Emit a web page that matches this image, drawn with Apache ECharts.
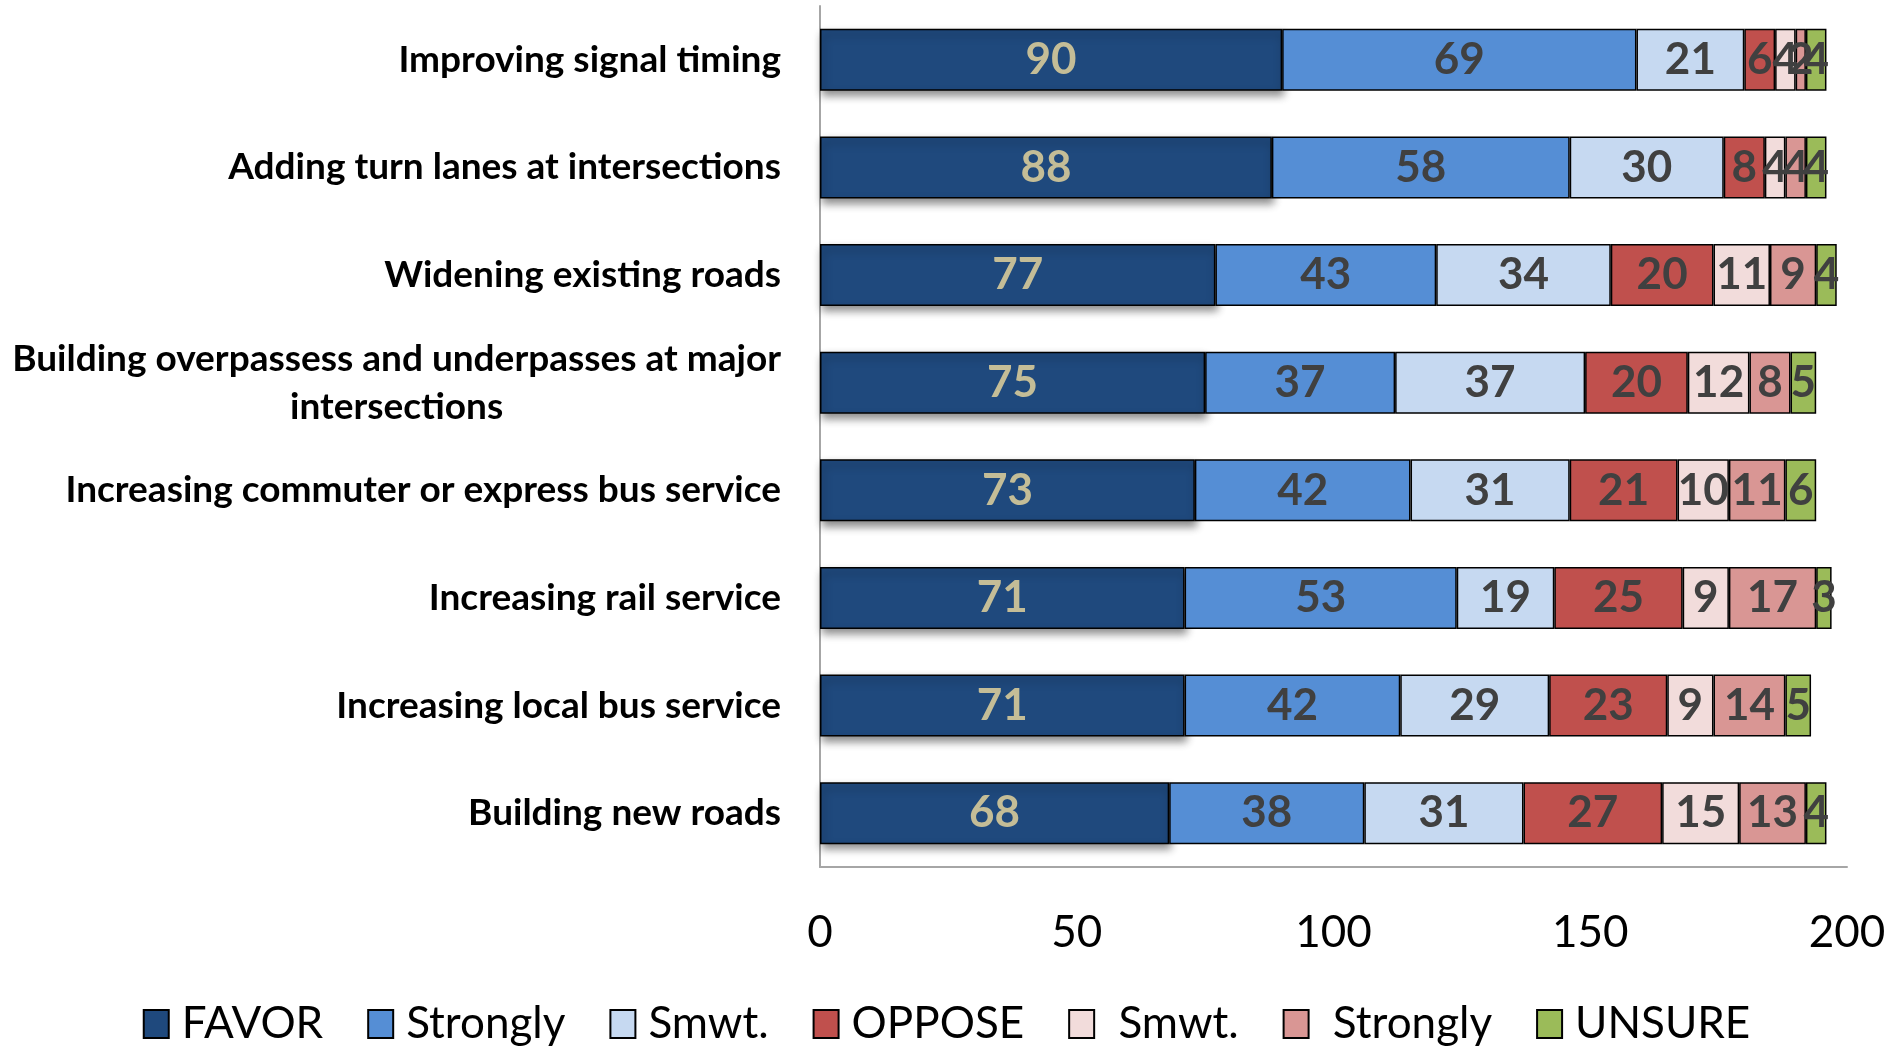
<!DOCTYPE html>
<html>
<head>
<meta charset="utf-8">
<script src="https://cdn.jsdelivr.net/npm/echarts@6/dist/echarts.min.js"></script>
<style>
  html, body { margin: 0; padding: 0; background: #fff; }
  #chart { width: 1893px; height: 1052px; }
</style>
</head>
<body>
<div id="chart"></div>
<script>
var categories = [
    'Improving signal timing',
    'Adding turn lanes at intersections',
    'Widening existing roads',
    'Building overpassess and underpasses at major\nintersections',
    'Increasing commuter or express bus service',
    'Increasing rail service',
    'Increasing local bus service',
    'Building new roads'
];
var favor = [90, 88, 77, 75, 73, 71, 71, 68];
var favorStrongly = [69, 58, 43, 37, 42, 53, 42, 38];
var favorSmwt = [21, 30, 34, 37, 31, 19, 29, 31];
var oppose = [6, 8, 20, 20, 21, 25, 23, 27];
var opposeSmwt = [4, 4, 11, 12, 10, 9, 9, 15];
var opposeStrongly = [2, 4, 9, 8, 11, 17, 14, 13];
var unsure = [4, 4, 4, 5, 6, 3, 5, 4];
var xTicks = [0, 50, 100, 150, 200];

var FONT = 'Lato, "Noto Sans", sans-serif';

function makeSeries(name, data, color, labelColor, extra) {
    var s = {
        name: name,
        type: 'bar',
        stack: 'total',
        barWidth: 62,
        data: data,
        itemStyle: {
            color: color,
            borderColor: '#000',
            borderWidth: 1.5
        },
        label: {
            show: true,
            position: 'inside',
            color: labelColor,
            fontFamily: FONT,
            fontWeight: 'bold',
            fontSize: 44
        }
    };
    if (extra) {
        Object.assign(s.itemStyle, extra);
    }
    return s;
}

var myChart = echarts.init(document.getElementById('chart'));
myChart.setOption({
    backgroundColor: '#fff',
    animation: false,
    grid: {
        left: 820,
        right: 46,
        top: 6,
        bottom: 185
    },
    legend: {
        left: 'center',
        top: 997,
        itemWidth: 25,
        itemHeight: 28,
        itemGap: 44,
        icon: 'rect',
        textStyle: {
            fontFamily: FONT,
            fontSize: 44,
            color: '#000',
            padding: [0, 0, 0, 8]
        },
        data: ['FAVOR', 'Strongly', 'Smwt.', 'OPPOSE', ' Smwt.', ' Strongly', 'UNSURE']
    },
    xAxis: {
        type: 'value',
        min: 0,
        max: 200,
        interval: 50,
        splitLine: { show: false },
        axisTick: { show: false },
        axisLine: {
            show: true,
            lineStyle: { color: '#A6A6A6', width: 2 }
        },
        axisLabel: {
            margin: 44,
            color: '#000',
            fontFamily: FONT,
            fontSize: 44,
            formatter: function (v) {
                return xTicks.indexOf(v) >= 0 ? String(v) : '';
            }
        }
    },
    yAxis: {
        type: 'category',
        inverse: true,
        data: categories,
        axisTick: { show: false },
        axisLine: {
            show: true,
            lineStyle: { color: '#A6A6A6', width: 2 }
        },
        axisLabel: {
            margin: 39,
            color: '#000',
            formatter: function (v) {
                return '{c|' + v.split('\n').join('}\n{c|') + '}';
            },
            rich: {
                c: {
                    align: 'center',
                    fontFamily: FONT,
                    fontWeight: 'bold',
                    fontSize: 37,
                    lineHeight: 48,
                    color: '#000'
                }
            }
        }
    },
    series: [
        makeSeries('FAVOR', favor, '#1F497D', '#C4BD97', {
            shadowColor: 'rgba(0,0,0,0.45)',
            shadowBlur: 8,
            shadowOffsetX: 2,
            shadowOffsetY: 5
        }),
        makeSeries('Strongly', favorStrongly, '#558ED5', '#404040'),
        makeSeries('Smwt.', favorSmwt, '#C6D9F1', '#404040'),
        makeSeries('OPPOSE', oppose, '#C0504D', '#404040'),
        makeSeries(' Smwt.', opposeSmwt, '#F2DCDB', '#404040'),
        makeSeries(' Strongly', opposeStrongly, '#D99694', '#404040'),
        makeSeries('UNSURE', unsure, '#9BBB59', '#404040')
    ]
});
</script>
</body>
</html>
